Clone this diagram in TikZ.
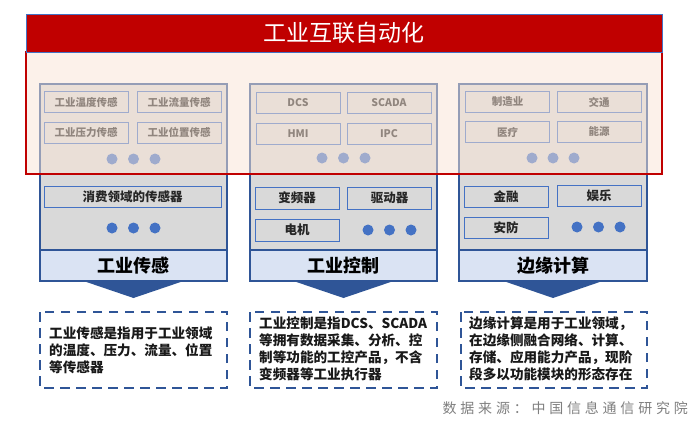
\documentclass[tikz,border=0pt]{standalone}
\usepackage{fontspec}
\setmainfont{Noto Sans CJK SC}
\newfontfamily\srcfont{Noto Sans CJK SC}[LetterSpace=27]
\definecolor{dblue}{HTML}{2F5597}
\definecolor{mblue}{HTML}{4472C4}
\definecolor{colgray}{HTML}{D9D9D9}
\definecolor{bandblue}{HTML}{DAE3F3}
\definecolor{hdrred}{HTML}{C00000}
\definecolor{pinkov}{HTML}{FBE5D6}
\definecolor{srcgray}{HTML}{7F7F7F}
\begin{document}
\begin{tikzpicture}[x=1pt,y=-1pt,
  colbox/.style={draw=dblue, fill=colgray, line width=1.6pt},
  ibox/.style={draw=mblue, fill=colgray, line width=0.9pt, inner sep=0pt, minimum width=84pt, minimum height=21pt, text=black!85, font=\fontsize{12.5}{14}\selectfont\bfseries},
  tbox/.style={ibox, font=\fontsize{10.5}{12}\selectfont\bfseries},
  bdot/.style={circle, fill=mblue, minimum size=11pt, inner sep=0pt},
  band/.style={draw=dblue, fill=bandblue, line width=1.6pt, minimum width=187pt, minimum height=31pt, inner sep=0pt, font=\fontsize{18}{20}\selectfont\bfseries},
  chev/.style={fill=dblue},
  dbox/.style={draw=dblue, line width=2.3pt, dash pattern=on 9.5pt off 6.5pt},
  dtext/.style={anchor=north west, align=left, inner sep=0pt, font=\fontsize{13.6}{17}\selectfont\bfseries, text=black!90}
]
\useasboundingbox (0,0) rectangle (700,423);
\fill[white] (0,0) rectangle (700,423);

% ---------- column 1 ----------
\draw[colbox] (40,84) rectangle (227,281);
\node[tbox] (c1a) at (86,102) {工业温度传感};
\node[tbox] (c1b) at (179,102) {工业流量传感};
\node[tbox] (c1c) at (86,132.5) {工业压力传感};
\node[tbox] (c1d) at (179,132.5) {工业位置传感};
\node[bdot] (c1t1) at (112,159) {};
\node[bdot] (c1t2) at (133.5,159) {};
\node[bdot] (c1t3) at (155,159) {};
\node[ibox, minimum width=177pt] (c1e) at (132.5,196.5) {消费领域的传感器};
\node[bdot] (c1l1) at (112,228) {};
\node[bdot] (c1l2) at (133.5,228) {};
\node[bdot] (c1l3) at (155,228) {};
\node[band] (b1) at (133.5,265.5) {工业传感};
\fill[chev] (82,280.5) -- (185,280.5) -- (133.5,298) -- cycle;

% ---------- column 2 ----------
\draw[colbox] (250,84) rectangle (437,281);
\node[tbox] (c2a) at (298,103) {DCS};
\node[tbox] (c2b) at (389,103) {SCADA};
\node[tbox] (c2c) at (298,133.5) {HMI};
\node[tbox] (c2d) at (389,133.5) {IPC};
\node[bdot] (c2t1) at (322,158) {};
\node[bdot] (c2t2) at (343.5,158) {};
\node[bdot] (c2t3) at (365,158) {};
\node[ibox, minimum height=22pt] (c2e) at (297,198) {变频器};
\node[ibox, minimum height=22pt] (c2f) at (389.5,198) {驱动器};
\node[ibox, minimum height=22pt] (c2g) at (297,230) {电机};
\node[bdot] (c2l1) at (368,230) {};
\node[bdot] (c2l2) at (389.5,230) {};
\node[bdot] (c2l3) at (411,230) {};
\node[band] (b2) at (343.5,265.5) {工业控制};
\fill[chev] (292,280.5) -- (395,280.5) -- (343.5,298) -- cycle;

% ---------- column 3 ----------
\draw[colbox] (459,84) rectangle (647,281);
\node[tbox] (c3a) at (507.5,102) {制造业};
\node[tbox] (c3b) at (599,102) {交通};
\node[tbox] (c3c) at (507.5,132) {医疗};
\node[tbox] (c3d) at (599,132) {能源};
\node[bdot] (c3t1) at (532,158) {};
\node[bdot] (c3t2) at (553,158) {};
\node[bdot] (c3t3) at (574,158) {};
\node[ibox] (c3e) at (506,196.5) {金融};
\node[ibox] (c3f) at (599,195.5) {娱乐};
\node[ibox] (c3g) at (506,227.5) {安防};
\node[bdot] (c3l1) at (577,227) {};
\node[bdot] (c3l2) at (598.5,227) {};
\node[bdot] (c3l3) at (620,227) {};
\node[band, minimum width=188pt] (b3) at (553,265.5) {边缘计算};
\fill[chev] (502,280.5) -- (604,280.5) -- (553,298) -- cycle;

% ---------- overlay frame ----------
\fill[pinkov, fill opacity=0.5] (26,52) rectangle (662,174);
\draw[hdrred, line width=1.1pt] (26,52) rectangle (662,174);
\node[draw=mblue, line width=0.6pt, fill=hdrred, minimum width=636pt, minimum height=38pt, inner sep=0pt, text=white, font=\fontsize{23}{26}\selectfont] (hdr) at (344,33) {工业互联自动化};

% ---------- dashed description boxes ----------
\draw[dbox] (40,312) rectangle (227,388);
\node[dtext] (d1) at (49,327) {工业传感是指用于工业领域\\的温度、压力、流量、位置\\等传感器};
\draw[dbox] (250,312) rectangle (437,388);
\node[dtext] (d2) at (259,317) {工业控制是指DCS、SCADA\\等拥有数据采集、分析、控\\制等功能的工控产品，不含\\变频器等工业执行器};
\draw[dbox] (461,312) rectangle (647,388);
\node[dtext] (d3) at (469,317) {边缘计算是用于工业领域，\\在边缘侧融合网络、计算、\\存储、应用能力产品，现阶\\段多以功能模块的形态存在};

% ---------- source ----------
\node[anchor=east, inner sep=0pt, text=srcgray, font=\srcfont\fontsize{14}{16}\selectfont] (src) at (688,408) {数据来源：中国信息通信研究院};
\end{tikzpicture}
\end{document}
